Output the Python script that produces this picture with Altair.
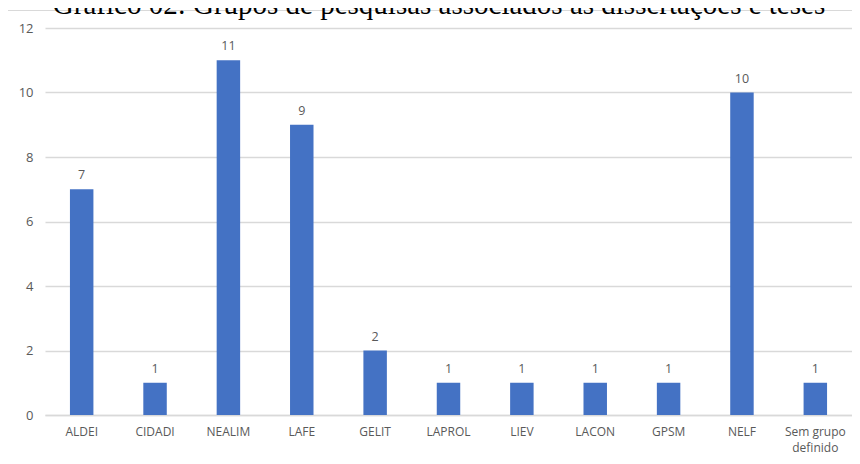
import altair as alt
import pandas as pd

categories = ["ALDEI", "CIDADI", "NEALIM", "LAFE", "GELIT", "LAPROL",
              "LIEV", "LACON", "GPSM", "NELF", "Sem grupo definido"]
values = [7, 1, 11, 9, 2, 1, 1, 1, 1, 10, 1]
y_ticks = [0, 2, 4, 6, 8, 10, 12]
title_text = "Gráfico 02: Grupos de pesquisas associados às dissertações e teses"

df = pd.DataFrame({"grupo": categories, "n": values})
one = pd.DataFrame({"k": [0]})

W, H = 807, 387
GRAY = "#d9d9d9"
TXT = "#595959"
FONT = "Open Sans"

x_enc = alt.X(
    "grupo:N", sort=categories,
    scale=alt.Scale(paddingInner=0.68, paddingOuter=0.34),
    axis=alt.Axis(
        title=None, labelAngle=0, ticks=False, labelPadding=11,
        labelColor=TXT, labelFontSize=12, labelFont=FONT,
        domainColor=GRAY, domainWidth=1.3, labelLineHeight=16,
        labelExpr="datum.label == 'Sem grupo definido' ? ['Sem grupo', 'definido'] : datum.label",
    ),
)
y_enc = alt.Y(
    "n:Q",
    scale=alt.Scale(domain=[0, 12], nice=False),
    axis=alt.Axis(
        title=None, values=y_ticks, ticks=False, domain=False,
        gridColor=GRAY, gridWidth=1.3, labelPadding=12,
        labelColor=TXT, labelFontSize=13, labelFont=FONT,
    ),
)

base = alt.Chart(df)
bars = base.mark_bar(color="#4472C4").encode(x=x_enc, y=y_enc)
labels = base.mark_text(
    dy=-10, baseline="alphabetic", color=TXT, fontSize=12.5, font=FONT
).encode(x=alt.X("grupo:N", sort=categories), y="n:Q", text="n:Q")

border = alt.Chart(one).mark_rect(
    fillOpacity=0, stroke=GRAY, strokeWidth=1
).encode(
    x=alt.value(-37.5), x2=alt.value(W + 60),
    y=alt.value(-17.5), y2=alt.value(H + 120),
)

title = alt.Chart(one).mark_text(
    text=title_text, font="Liberation Serif", fontSize=29,
    align="center", baseline="alphabetic", color="#000000",
).encode(x=alt.value(439 - 45), y=alt.value(14 - 28))

chart = alt.layer(border, bars, labels, title).properties(
    width=W, height=H,
    autosize=alt.AutoSizeParams(type="none"),
    padding={"left": 37, "top": 20, "right": 0, "bottom": 41},
).configure_view(stroke=None)

chart.save("out.html", embed_options={"renderer": "svg", "actions": False})
